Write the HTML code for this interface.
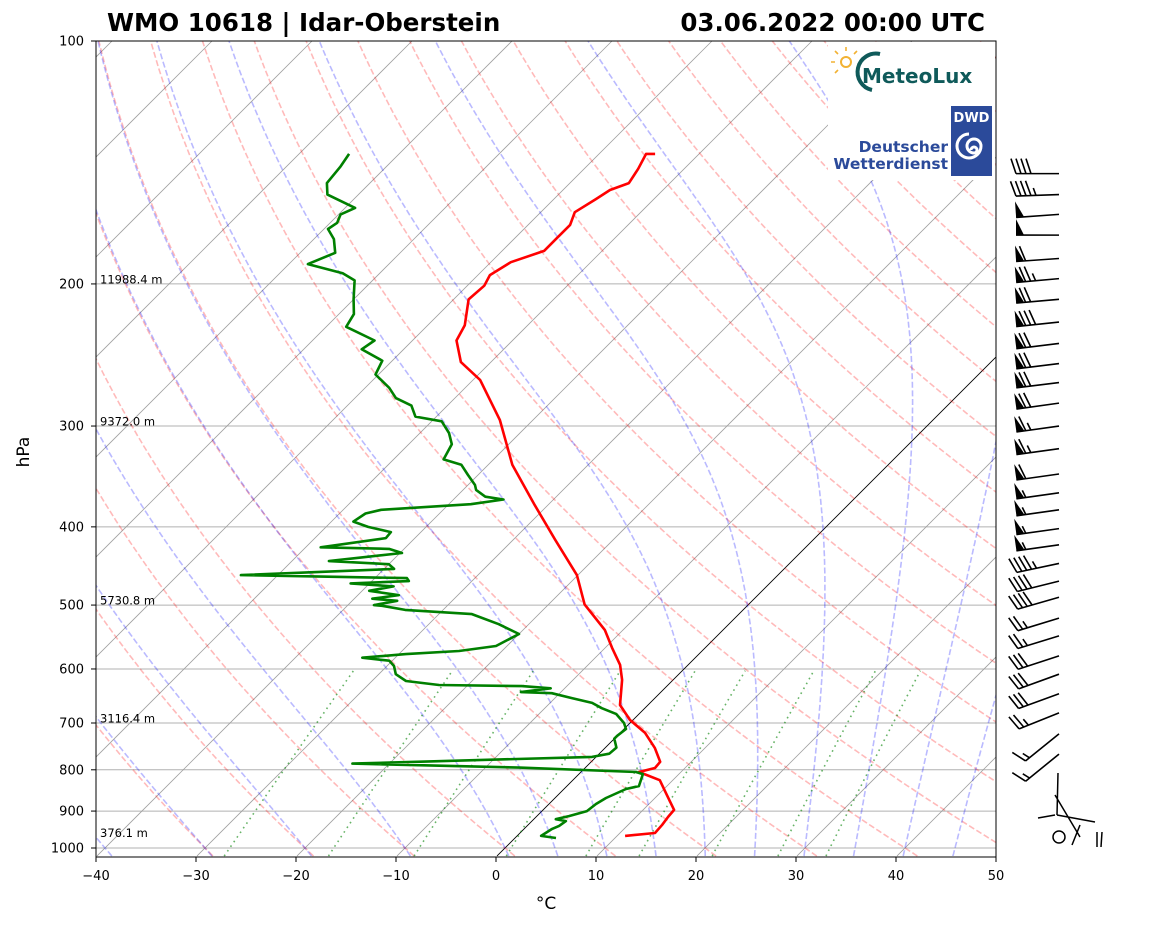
<!DOCTYPE html>
<html><head><meta charset="utf-8">
<style>
html,body{margin:0;padding:0;background:#fff;}
svg{display:block;font-family:"DejaVu Sans","Liberation Sans",sans-serif;}
</style></head>
<body>
<svg id="chart" width="1160" height="925" viewBox="0 0 1160 925" xmlns="http://www.w3.org/2000/svg">
<defs><clipPath id="clip"><rect x="96" y="41" width="900" height="816"/></clipPath></defs>
<rect x="0" y="0" width="1160" height="925" fill="#fff"/>
<g id="bg" clip-path="url(#clip)"></g>
<g id="series" clip-path="url(#clip)"></g>
<g id="logos">
  <rect x="828" y="42" width="167" height="138" fill="#fff"/>
  <g>
    <circle cx="846" cy="62" r="5" fill="none" stroke="#f2b233" stroke-width="2"/>
    <path d="M846 51v-4 M835 62h-4 M838 54l-3-3 M854 54l3-3 M838 70l-3 3" stroke="#f2b233" stroke-width="1.6"/>
    <path d="M880 54 A18 18 0 1 0 872 90" fill="none" stroke="#0f5a5a" stroke-width="4"/>
    <text x="862" y="83" font-size="20" font-weight="bold" fill="#0f5a5a">MeteoLux</text>
  </g>
  <g>
    <rect x="951" y="106" width="41" height="70" fill="#2b4a9a"/>
    <text x="971.5" y="122" font-size="13" font-weight="bold" fill="#fff" text-anchor="middle">DWD</text>
    <path d="M971 150 a3 3 0 1 1 3 3 a7 7 0 1 1 7 -7 a12 12 0 1 1 -12 -12" fill="none" stroke="#fff" stroke-width="3"/>
    <text x="948" y="152" font-size="15.5" font-weight="bold" fill="#2b4a9a" text-anchor="end">Deutscher</text>
    <text x="948" y="169" font-size="15.5" font-weight="bold" fill="#2b4a9a" text-anchor="end">Wetterdienst</text>
  </g>
</g>
<rect x="96" y="41" width="900" height="816" fill="none" stroke="#000" stroke-width="1"/>
<g id="axes"></g>
<g id="barbs"></g>
<g stroke="#000" stroke-width="1.5" fill="none">
  <path d="M1058 773 L1057 815 M1038 818 L1055 815 M1055 795 L1080 837 M1057 815 L1095 822 M1097 832 L1097 847 M1102 832 L1101 847 M1080 825 L1072 845"/>
  <circle cx="1059" cy="837" r="6"/>
</g>
<text x="107" y="31" font-size="24.5" font-weight="bold">WMO 10618 | Idar-Oberstein</text>
<text x="985" y="31" font-size="24.5" font-weight="bold" text-anchor="end">03.06.2022 00:00 UTC</text>
<text x="0" y="0" font-size="17" text-anchor="middle" transform="translate(29,452) rotate(-90)">hPa</text>
<text x="546" y="909" font-size="17" text-anchor="middle">°C</text>
</svg>
<script>
const tempP = [966,958,936,915,897,860,824,805,796,782,752,720,694,665,619,593,565,537,499,459,415,376,335,295,263,250,235,225,209,201,195,188,182,176,169,163,157,153,150,144,138,138];
const tempT = [10.8,13.5,13.4,13.2,13.1,10.9,8.7,5.8,7.0,6.9,5.0,2.5,-0.3,-2.8,-5.1,-6.8,-9.3,-11.8,-16.4,-20.1,-25.8,-31.3,-37.6,-43.3,-49.3,-53,-55.6,-56.3,-58.5,-58.3,-58.8,-58,-55.8,-55.8,-55.8,-56.6,-55.8,-55.3,-54.1,-54.6,-55.3,-54.4];
const dewP = [972,966,947,939,926,921,913,900,882,867,845,838,810,805,795,786,771,764,751,732,726,712,700,682,671,661,652,643,641,634,630,628,621,609,595,586,581,575,570,562,543,528,513,507,501,500,494,491,486,480,474,470,467,463,459,451,445,441,431,426,424,413,406,400,394,385,381,375,370,367,360,355,345,335,330,316,306,296,292,283,277,269,259,249,241,235,226,218,209,198,194,189,183,176,171,168,164,161,155,150,143,138];
const dewT = [4.1,2.4,2.8,3.2,3.4,2.2,3.2,4.5,4.7,5.1,6.2,7.2,6.4,5.5,-6.6,-23.7,-0.4,1.0,1.1,0,0,0.2,-0.6,-2.3,-4.3,-5.8,-8.3,-10.8,-14.0,-11.4,-14.5,-22.9,-26.6,-28.3,-29.3,-30.3,-33.3,-29.3,-24.3,-21.1,-20.0,-23.0,-26.7,-33.8,-36.5,-37.4,-35.5,-38.2,-35.9,-39.3,-37.3,-41.9,-36.3,-36.8,-53.7,-39.0,-40.0,-46.3,-39.8,-41.5,-48.5,-42.9,-43.0,-45.8,-47.8,-47.4,-46.2,-37.8,-35.0,-37.1,-38.7,-39.3,-41.0,-42.7,-45.0,-45.7,-47.1,-49.0,-52.1,-53.6,-55.9,-57.6,-60.3,-61.0,-64.2,-63.8,-68.0,-68.5,-70.0,-71.8,-73.7,-78.1,-76.5,-78.0,-79.6,-79.3,-79.8,-79.0,-83.1,-84.3,-84.6,-85.0];
const windP = [146,155,164,174,186,197,209,223,237,251,265,281,300,320,344,363,381,402,421,444,467,489,519,546,578,609,644,680,722,765];
const windSpd = [40,45,50,50,60,75,70,80,70,70,70,70,65,65,60,55,55,55,55,45,40,40,25,25,30,30,30,25,15,15];
const windDir = [270,268,266,270,266,265,265,264,263,263,263,262,262,262,262,262,262,262,262,258,256,254,253,253,252,250,250,248,231,231];
const heightP = [200,300,500,700,971];
const heightLabels = ["11988.4 m","9372.0 m","5730.8 m","3116.4 m","376.1 m"];
const pTicks = [100,200,300,400,500,600,700,800,900,1000];
const tTicks = [-40,-30,-20,-10,0,10,20,30,40,50];
const mixRatios = [0.0004,0.001,0.002,0.004,0.007,0.01,0.016,0.024,0.032];

const NS='http://www.w3.org/2000/svg';
const PBOT = 1023, PTOP = 100;
function yOf(p){ return 41 + 807*Math.log10(p/100); }
function xOf(T,p){ return 96 + (T+40)*10 + (857 - yOf(p)); }
function mk(tag, parent){ const e=document.createElementNS(NS,tag); parent.appendChild(e); return e; }
function pathFrom(ps, ts){ let d=''; for(let i=0;i<ps.length;i++){ d+=(i?'L':'M')+xOf(ts[i],ps[i]).toFixed(1)+' '+yOf(ps[i]).toFixed(1); } return d; }
function pLevels(step){ const a=[]; for(let p=PBOT;p>=PTOP;p-=step) a.push(p); a.push(PTOP); return a; }

const bg=document.getElementById('bg');
for(const p of pTicks){ if(p===100) continue;
  const l=mk('line',bg); l.setAttribute('x1',96); l.setAttribute('x2',996); l.setAttribute('y1',yOf(p)); l.setAttribute('y2',yOf(p));
  l.setAttribute('stroke','#b0b0b0'); l.setAttribute('stroke-width','1');
  
  
}
for(let T=-160;T<=50;T+=10){
  const l=mk('line',bg); l.setAttribute('x1',xOf(T,PBOT)); l.setAttribute('y1',yOf(PBOT)); l.setAttribute('x2',xOf(T,PTOP)); l.setAttribute('y2',yOf(PTOP));
  l.setAttribute('stroke',T===0?'#000':'#a0a0a0'); l.setAttribute('stroke-width',T===0?'0.9':'0.8');
  
  
}
const levels=pLevels(5);
for(let t0=-30;t0<=200;t0+=10){
  const th=t0+273.15; const ts=levels.map(p=>th*Math.pow(p/1000,0.2857)-273.15);
  const e=mk('path',bg); e.setAttribute('d',pathFrom(levels,ts)); e.setAttribute('fill','none');
  e.setAttribute('stroke','rgba(255,0,0,0.27)'); e.setAttribute('stroke-width','1.6'); e.setAttribute('stroke-dasharray','6 2.6');
  
  
}
function dTdp(T,p){ const Rd=287.04,Cp=1005.7,Lv=2.501e6,eps=0.622;
  const es=6.112*Math.exp(17.67*(T-273.15)/(T-29.65)); const rs=eps*es/(p-es);
  return (Rd*T+Lv*rs)/(p*(Cp+Lv*Lv*rs*eps/(Rd*T*T))); }
function moist(t0){
  const ps=[],ts=[]; let T=t0+273.15;
  let Td=T; const down=[]; for(let p=1000;p<PBOT;p+=1){ const k1=dTdp(Td,p),k2=dTdp(Td+k1*0.5,p+0.5); Td+=k2; down.push([p+1,Td]); }
  down.reverse().forEach(a=>{ps.push(a[0]);ts.push(a[1]-273.15);});
  ps.push(1000); ts.push(T-273.15);
  for(let p=1000;p>PTOP;p-=2){ const k1=dTdp(T,p)*-2; const k2=dTdp(T+k1/2,p-1)*-2; T+=k2; ps.push(p-2); ts.push(T-273.15); }
  return [ps,ts];
}
const moistStarts=[-50,-40,-30,-20,-10,0,5,10,15,20,25,30,35,40,45];
for(const t0 of moistStarts){
  const r=moist(t0); const e=mk('path',bg); e.setAttribute('d',pathFrom(r[0],r[1])); e.setAttribute('fill','none');
  e.setAttribute('stroke','rgba(0,0,255,0.27)'); e.setAttribute('stroke-width','1.6'); e.setAttribute('stroke-dasharray','6 2.6');
  
  
}
for(const w of mixRatios){
  const ps=[],ts=[]; for(let p=PBOT;p>=600;p-=5){ const e=p*w/(0.622+w); const l=Math.log(e/6.112); ps.push(p); ts.push(243.5*l/(17.67-l)); }
  const e=mk('path',bg); e.setAttribute('d',pathFrom(ps,ts)); e.setAttribute('fill','none');
  e.setAttribute('stroke','rgba(0,128,0,0.6)'); e.setAttribute('stroke-width','1.6'); e.setAttribute('stroke-dasharray','1.6 4');
  
  
}
const ser=document.getElementById('series');
const tp=mk('path',ser); tp.setAttribute('d',pathFrom(tempP,tempT)); tp.setAttribute('fill','none'); tp.setAttribute('stroke','#ff0000'); tp.setAttribute('stroke-width','2.6'); tp.setAttribute('stroke-linejoin','round');


const dp=mk('path',ser); dp.setAttribute('d',pathFrom(dewP,dewT)); dp.setAttribute('fill','none'); dp.setAttribute('stroke','#008000'); dp.setAttribute('stroke-width','2.6'); dp.setAttribute('stroke-linejoin','round');


for(let i=0;i<heightP.length;i++){
  const t=mk('text',ser); t.setAttribute('x',100); t.setAttribute('y',yOf(heightP[i])-0.5); t.setAttribute('font-size','11.5'); t.textContent=heightLabels[i];
  
  
}
const ax=document.getElementById('axes');
for(const p of pTicks){
  const l=mk('line',ax); l.setAttribute('x1',91); l.setAttribute('x2',96); l.setAttribute('y1',yOf(p)); l.setAttribute('y2',yOf(p)); l.setAttribute('stroke','#000');
  
  
  const t=mk('text',ax); t.setAttribute('x',84); t.setAttribute('y',yOf(p)+4.5); t.setAttribute('font-size','13'); t.setAttribute('text-anchor','end'); t.textContent=p;
  
  
}
for(const T of tTicks){
  const x=96+(T+40)*10;
  const l=mk('line',ax); l.setAttribute('x1',x); l.setAttribute('x2',x); l.setAttribute('y1',857); l.setAttribute('y2',862); l.setAttribute('stroke','#000');
  
  
  const t=mk('text',ax); t.setAttribute('x',x); t.setAttribute('y',880); t.setAttribute('font-size','13'); t.setAttribute('text-anchor','middle'); t.textContent=(T<0?'\u2212'+(-T):''+T);
  
  
}
const bg2=document.getElementById('barbs');
function barb(p,spd,dir){
  const bx=1059, by=yOf(p), L=43, r=dir*Math.PI/180;
  const u=[Math.sin(r),-Math.cos(r)], pr=[-u[1],u[0]];
  const tip=[bx+u[0]*L, by+u[1]*L];
  const g=mk('g',bg2);
  
  
  let d='M'+bx+' '+by+'L'+tip[0].toFixed(1)+' '+tip[1].toFixed(1);
  let s=Math.round(spd/5)*5; const nf=Math.floor(s/50); s-=nf*50; const nb=Math.floor(s/10); s-=nb*10; const nh=s>=5?1:0;
  let pos=0; let poly='';
  const at=q=>[tip[0]-u[0]*q, tip[1]-u[1]*q];
  for(let i=0;i<nf;i++){ const A=at(pos),B=at(pos+8); const C=[A[0]+pr[0]*16,A[1]+pr[1]*16];
    poly+='M'+A[0]+' '+A[1]+'L'+C[0]+' '+C[1]+'L'+B[0]+' '+B[1]+'Z'; pos+=9.5; }
  for(let i=0;i<nb;i++){ const S=at(pos); d+='M'+S[0].toFixed(1)+' '+S[1].toFixed(1)+'L'+(S[0]+pr[0]*15+u[0]*5).toFixed(1)+' '+(S[1]+pr[1]*15+u[1]*5).toFixed(1); pos+=5; }
  if(nh){ if(nf===0&&nb===0) pos=5; const S=at(pos); d+='M'+S[0].toFixed(1)+' '+S[1].toFixed(1)+'L'+(S[0]+pr[0]*7.5+u[0]*2.5).toFixed(1)+' '+(S[1]+pr[1]*7.5+u[1]*2.5).toFixed(1); }
  const e=mk('path',g); e.setAttribute('d',d); e.setAttribute('stroke','#000'); e.setAttribute('stroke-width','1.6'); e.setAttribute('fill','none');
  
  
  if(poly){ const f=mk('path',g); f.setAttribute('d',poly); f.setAttribute('fill','#000');
    
     }
}
for(let i=0;i<windP.length;i++) barb(windP[i],windSpd[i],windDir[i]);
</script>
</body></html>
